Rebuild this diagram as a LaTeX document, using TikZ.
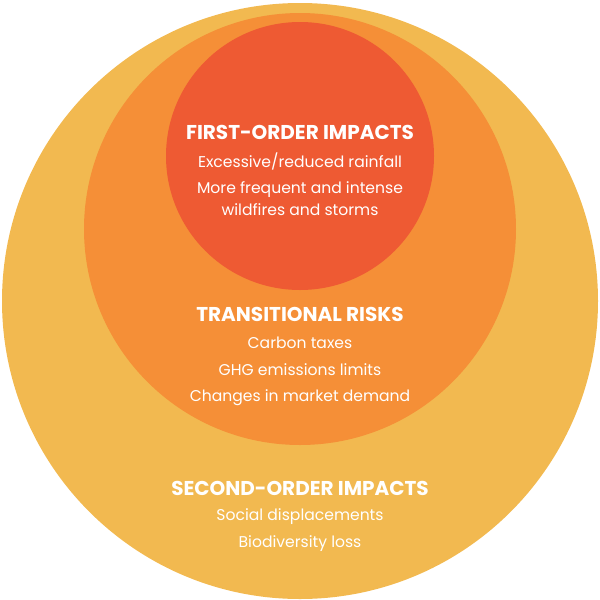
\documentclass[tikz,border=0pt]{standalone}
\usepackage{fontspec}
\setmainfont{Poppins}
\begin{document}
\begin{tikzpicture}[x=1pt,y=-1pt,
  head/.style={text=white,font=\fontsize{20}{22}\selectfont\bfseries},
  item/.style={text=white,font=\fontsize{15.6}{22}\selectfont}]
\definecolor{outerc}{HTML}{F2B950}
\definecolor{midc}{HTML}{F58F37}
\definecolor{innerc}{HTML}{EE5A33}
\useasboundingbox (0,0) rectangle (600,600);
\fill[outerc] (300,301) circle (298);
\fill[midc] (300,229) circle (216);
\fill[innerc] (300,156) circle (134);
\node[head] (h1) at (300,132) {FIRST-ORDER IMPACTS};
\node[item] (a1) at (300,161) {Excessive/reduced rainfall};
\node[item,align=center] (a2) at (300,199) {More frequent and intense\\wildfires and storms};
\node[head] (h2) at (300,314) {TRANSITIONAL RISKS};
\node[item] (b1) at (300,343) {Carbon taxes};
\node[item] (b2) at (300,370) {GHG emissions limits};
\node[item] (b3) at (300,398) {Changes in market demand};
\node[head] (h3) at (300,488) {SECOND-ORDER IMPACTS};
\node[item] (c1) at (300,517) {Social displacements};
\node[item] (c2) at (300,544) {Biodiversity loss};
\end{tikzpicture}
\end{document}
